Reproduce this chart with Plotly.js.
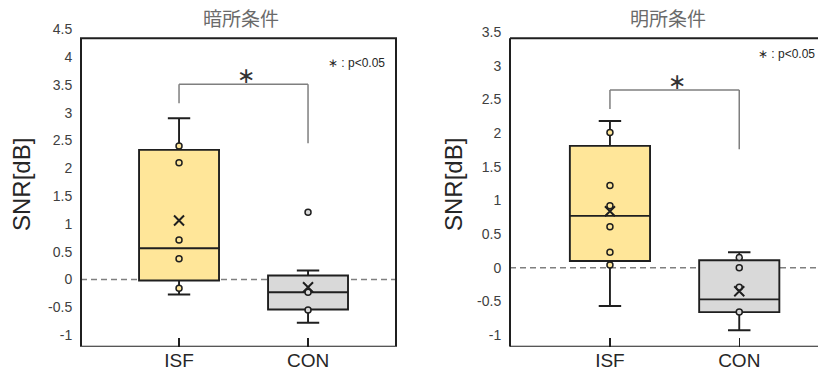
<!DOCTYPE html>
<html>
<head>
<meta charset="utf-8">
<script src="https://cdn.plot.ly/plotly-3.0.1.min.js"></script>
<style>
html,body{margin:0;padding:0;background:#fff;overflow:hidden;}
#chart{width:818px;height:374px;}
</style>
</head>
<body>
<div id="chart"></div>
<script>
// ---- data ----
const categories = ['ISF', 'CON'];
const panelTitles = ['暗所条件', '明所条件'];

// dark condition (暗所条件)
const darkLower  = [-0.27, -0.78];
const darkQ1     = [-0.02, -0.54];
const darkMedian = [0.56, -0.23];
const darkQ3     = [2.33, 0.07];
const darkUpper  = [2.90, 0.16];
const darkMean   = [1.06, -0.14];
const darkPointsISF = [2.40, 2.10, 0.71, 0.37, -0.16];
const darkPointsCON = [1.21, -0.23, -0.55];

// bright condition (明所条件)
const brightLower  = [-0.57, -0.93];
const brightQ1     = [0.10, -0.66];
const brightMedian = [0.77, -0.47];
const brightQ3     = [1.81, 0.11];
const brightUpper  = [2.18, 0.23];
const brightMean   = [0.84, -0.35];
const brightPointsISF = [2.01, 1.22, 0.92, 0.61, 0.23, 0.04];
const brightPointsCON = [0.15, 0.00, -0.29, -0.66];

// significance brackets: [left leg bottom, top, right leg bottom, star y]
const darkBracket   = [3.17, 3.51, 2.45, 3.66];
const brightBracket = [2.36, 2.64, 1.76, 2.77];
const sigNote = '∗ : p<0.05';
const sigStar = '∗';

const darkTickVals   = [-1, -0.5, 0, 0.5, 1, 1.5, 2, 2.5, 3, 3.5, 4, 4.5];
const darkTickText   = ['-1', '-0.5', '0', '0.5', '1', '1.5', '2', '2.5', '3', '3.5', '4', '4.5'];
const brightTickVals = [-1, -0.5, 0, 0.5, 1, 1.5, 2, 2.5, 3, 3.5];
const brightTickText = ['-1', '-0.5', '0', '0.5', '1', '1.5', '2', '2.5', '3', '3.5'];

// ---- styles ----
const fills = ['#ffe699', '#d9d9d9'];
const dark = '#1f1f1f';
const W = 818, H = 374;
const catX = [0, 1];

function boxTrace(i, lower, q1, med, q3, upper, xa, ya) {
  return {
    type: 'box', x: [catX[i]], q1: [q1[i]], median: [med[i]], q3: [q3[i]],
    lowerfence: [lower[i]], upperfence: [upper[i]],
    width: 0.62, whiskerwidth: 0.28, boxpoints: false,
    fillcolor: fills[i], line: {color: dark, width: 1.9},
    xaxis: xa, yaxis: ya, hoverinfo: 'skip'
  };
}
function pointsTrace(i, pts, xa, ya) {
  return {
    type: 'scatter', mode: 'markers', x: pts.map(() => catX[i]), y: pts,
    marker: {symbol: 'circle', size: 6, color: fills[i], line: {color: dark, width: 1.5}},
    xaxis: xa, yaxis: ya, hoverinfo: 'skip'
  };
}
function meanTrace(mean, xa, ya) {
  return {
    type: 'scatter', mode: 'markers', x: catX, y: mean,
    marker: {symbol: 'x-thin-open', size: 10, color: dark, line: {color: dark, width: 2}},
    xaxis: xa, yaxis: ya, hoverinfo: 'skip'
  };
}

const traces = [
  boxTrace(0, darkLower, darkQ1, darkMedian, darkQ3, darkUpper, 'x', 'y'),
  boxTrace(1, darkLower, darkQ1, darkMedian, darkQ3, darkUpper, 'x', 'y'),
  pointsTrace(0, darkPointsISF, 'x', 'y'),
  pointsTrace(1, darkPointsCON, 'x', 'y'),
  meanTrace(darkMean, 'x', 'y'),
  boxTrace(0, brightLower, brightQ1, brightMedian, brightQ3, brightUpper, 'x2', 'y2'),
  boxTrace(1, brightLower, brightQ1, brightMedian, brightQ3, brightUpper, 'x2', 'y2'),
  pointsTrace(0, brightPointsISF, 'x2', 'y2'),
  pointsTrace(1, brightPointsCON, 'x2', 'y2'),
  meanTrace(brightMean, 'x2', 'y2')
];

// panel geometry (px)
const yBottomPx = 346.7;
const darkRange = [-1.21, 4.5];
const brightRange = [-1.174, 3.5];
const darkFrameTop = 4.34, brightFrameTop = 3.41;

const tickFont = {family: 'Liberation Sans, Arial, sans-serif', size: 14, color: '#404040'};
const catFont = {family: 'Liberation Sans, Arial, sans-serif', size: 19, color: '#262626'};

function xAxis(domain, range, anchor) {
  return {
    domain: domain, range: range, anchor: anchor,
    tickvals: catX, ticktext: categories, ticks: 'inside', ticklen: 9,
    tickwidth: 1.5, tickcolor: dark, showline: false, showgrid: false,
    zeroline: false, tickfont: catFont, fixedrange: true
  };
}
function yAxis(domain, range, anchor, tv, tt) {
  return {
    domain: domain, range: range, anchor: anchor,
    tickvals: tv, ticktext: tt, ticks: 'outside', ticklen: 5,
    tickcolor: 'rgba(0,0,0,0)', showline: false, showgrid: false,
    zeroline: false, tickfont: tickFont, fixedrange: true
  };
}

function bracketShapes(br, xa, ya) {
  const ln = {color: '#7f7f7f', width: 1.5};
  return [
    {type: 'line', xref: xa, yref: ya, x0: 0, x1: 0, y0: br[0], y1: br[1], line: ln},
    {type: 'line', xref: xa, yref: ya, x0: 0, x1: 1, y0: br[1], y1: br[1], line: ln},
    {type: 'line', xref: xa, yref: ya, x0: 1, x1: 1, y0: br[1], y1: br[2], line: ln}
  ];
}
const frameLine = {color: dark, width: 2};
const zeroLine = {color: '#7f7f7f', width: 1.5, dash: '6px,4px'};

const shapes = [
  {type: 'line', xref: 'x domain', yref: 'y', x0: 0, x1: 1, y0: 0, y1: 0, line: zeroLine, layer: 'below'},
  {type: 'line', xref: 'x2 domain', yref: 'y2', x0: 0, x1: 1, y0: 0, y1: 0, line: zeroLine, layer: 'below'},
  {type: 'rect', xref: 'x domain', yref: 'y', x0: 0, x1: 1, y0: darkRange[0], y1: darkFrameTop, line: frameLine, fillcolor: 'rgba(0,0,0,0)'},
  {type: 'line', xref: 'x2 domain', yref: 'y2', x0: 0, x1: 0, y0: brightRange[0], y1: brightFrameTop, line: frameLine},
  {type: 'line', xref: 'x2 domain', yref: 'y2', x0: 0, x1: 1, y0: brightFrameTop, y1: brightFrameTop, line: frameLine},
  {type: 'line', xref: 'x2 domain', yref: 'y2', x0: 0, x1: 1, y0: brightRange[0], y1: brightRange[0], line: frameLine}
].concat(bracketShapes(darkBracket, 'x', 'y'), bracketShapes(brightBracket, 'x2', 'y2'));

const annotations = [
  {text: panelTitles[0], xref: 'paper', yref: 'paper', x: 240.8 / W, y: (H - 17.5) / H, xanchor: 'center', yanchor: 'middle', showarrow: false,
   font: {family: 'Noto Sans CJK JP, sans-serif', size: 19, color: '#6a6a6a'}},
  {text: panelTitles[1], xref: 'paper', yref: 'paper', x: 667.5 / W, y: (H - 17.5) / H, xanchor: 'center', yanchor: 'middle', showarrow: false,
   font: {family: 'Noto Sans CJK JP, sans-serif', size: 19, color: '#6a6a6a'}},
  {text: 'SNR[dB]', xref: 'paper', yref: 'paper', x: 21 / W, y: (H - 185) / H, textangle: -90, xanchor: 'center', yanchor: 'middle', showarrow: false,
   font: {family: 'Liberation Sans, Arial, sans-serif', size: 24, color: '#262626'}},
  {text: 'SNR[dB]', xref: 'paper', yref: 'paper', x: 453 / W, y: (H - 185) / H, textangle: -90, xanchor: 'center', yanchor: 'middle', showarrow: false,
   font: {family: 'Liberation Sans, Arial, sans-serif', size: 24, color: '#262626'}},
  {text: sigStar, xref: 'x', yref: 'y', x: 0.52, y: darkBracket[3], showarrow: false, xanchor: 'center', yanchor: 'middle',
   font: {family: 'DejaVu Sans, sans-serif', size: 22, color: '#333333'}},
  {text: sigStar, xref: 'x2', yref: 'y2', x: 0.52, y: brightBracket[3], showarrow: false, xanchor: 'center', yanchor: 'middle',
   font: {family: 'DejaVu Sans, sans-serif', size: 22, color: '#333333'}},
  {text: sigNote, xref: 'x', yref: 'y', x: 1.61, y: 3.89, showarrow: false, xanchor: 'right', yanchor: 'middle',
   font: {family: 'Liberation Sans, Arial, sans-serif', size: 12, color: '#262626'}},
  {text: sigNote, xref: 'x2', yref: 'y2', x: 1.60, y: 3.17, showarrow: false, xanchor: 'right', yanchor: 'middle',
   font: {family: 'Liberation Sans, Arial, sans-serif', size: 12, color: '#262626'}}
];

const layout = {
  width: W, height: H,
  margin: {l: 0, r: 0, t: 0, b: 0, pad: 0},
  paper_bgcolor: '#ffffff', plot_bgcolor: 'rgba(0,0,0,0)',
  showlegend: false,
  xaxis: xAxis([81 / W, 396 / W], [-0.76, 1.682], 'y'),
  yaxis: yAxis([(H - yBottomPx) / H, (H - 29.3) / H], darkRange, 'x', darkTickVals, darkTickText),
  xaxis2: xAxis([510 / W, 1], [-0.773, 1.609], 'y2'),
  yaxis2: yAxis([(H - yBottomPx) / H, (H - 32.2) / H], brightRange, 'x2', brightTickVals, brightTickText),
  shapes: shapes,
  annotations: annotations
};

Plotly.newPlot('chart', traces, layout, {displayModeBar: false, staticPlot: true});
</script>
</body>
</html>
